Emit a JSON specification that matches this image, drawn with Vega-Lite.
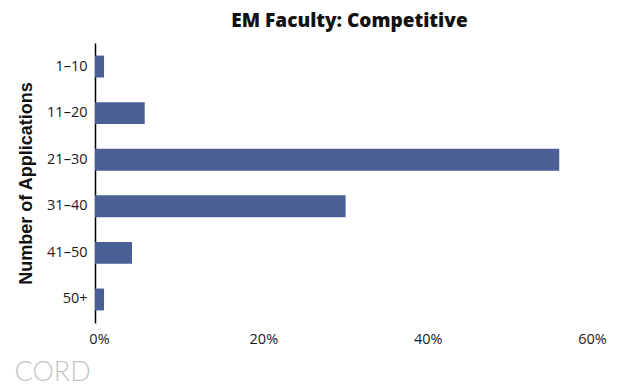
{
  "$schema": "https://vega.github.io/schema/vega-lite/v6.json",
  "width": 493,
  "height": 280,
  "autosize": {"type": "none"},
  "padding": {"left": 95, "top": 43, "right": 50, "bottom": 68},
  "background": "white",
  "title": {
    "text": "EM Faculty: Competitive",
    "font": "Open Sans",
    "fontSize": 19,
    "fontWeight": 800,
    "color": "#111111",
    "anchor": "middle",
    "dx": 8,
    "offset": 12
  },
  "data": {
    "values": [
      {"range": "1–10", "pct": 1.1},
      {"range": "11–20", "pct": 6.05},
      {"range": "21–30", "pct": 56.5},
      {"range": "31–40", "pct": 30.5},
      {"range": "41–50", "pct": 4.5},
      {"range": "50+", "pct": 1.1}
    ]
  },
  "mark": {"type": "bar", "color": "#4A5F96"},
  "encoding": {
    "y": {
      "field": "range",
      "type": "nominal",
      "sort": null,
      "scale": {"paddingInner": 0.53, "paddingOuter": 0.27},
      "axis": {
        "title": "Number of Applications",
        "titleFont": "Liberation Sans",
        "titleFontSize": 18,
        "titleFontWeight": "bold",
        "titleColor": "#111111",
        "titlePadding": 11,
        "labelFont": "Open Sans",
        "labelFontSize": 14.5,
        "labelColor": "#1a1a1a",
        "labelPadding": 8,
        "ticks": false,
        "domain": true,
        "domainColor": "#000000",
        "domainWidth": 1.5,
        "grid": false
      }
    },
    "x": {
      "field": "pct",
      "type": "quantitative",
      "scale": {"domain": [0, 60]},
      "axis": {
        "values": [0, 20, 40, 60],
        "labelExpr": "datum.value + '%'",
        "labelFont": "Open Sans",
        "labelFontSize": 14.5,
        "labelColor": "#1a1a1a",
        "labelPadding": 9,
        "labelFlush": false,
        "labelOffset": 4,
        "ticks": false,
        "domain": false,
        "grid": false,
        "title": "CORD",
        "titleFont": "Lato",
        "titleFontSize": 27,
        "titleFontWeight": 300,
        "titleColor": "#c4c4c4",
        "titleAnchor": "start",
        "titleX": -81,
        "titleY": 36
      }
    }
  },
  "config": {"view": {"stroke": null}}
}
